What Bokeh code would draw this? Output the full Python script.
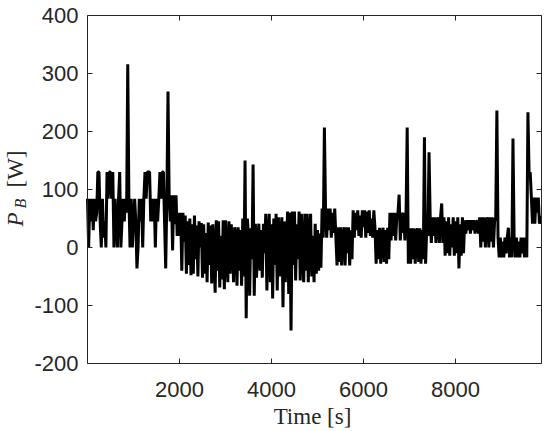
import math
from bokeh.plotting import figure
from bokeh.models import LinearAxis, FixedTicker, Label, Range1d, CustomJSTickFormatter
from bokeh.embed import file_html
from bokeh.resources import INLINE

# ---- data ----
sample_step_s = 25
p_b_w = [
    84, 0, 84, 45, 84, 30, 84, 45, 60, 130,
    130, 45, 0, 84, 17, 45, 0, 130, 84, 130,
    130, 84, 130, 0, 84, 45, 0, 84, 130, 0,
    45, 84, 45, 84, 60, 316, 84, 0, 84, 0,
    45, 84, 45, -36, 0, 84, 45, 84, 0, 84,
    130, 84, 130, 130, 130, 45, 84, 45, 84, 0,
    84, 45, 84, 130, 84, 130, 130, 45, -36, 84,
    269, 90, 45, 90, -5, 90, 40, 90, 20, 60,
    20, 60, -40, 60, 10, 55, -45, 45, -30, 50,
    -48, 40, -45, 55, -20, 38, -50, 45, 0, 42,
    -52, 40, -45, 25, -60, 43, -30, 38, -62, 40,
    -10, -78, 47, -40, 45, -69, 20, -55, 47, -72,
    47, 0, -60, 45, -45, 40, 10, -60, 35, 20,
    -66, 35, -40, 30, -66, 50, -50, 150, -122, 50,
    20, -83, 33, -20, 143, -83, 41, -52, 10, 41,
    -40, 30, -52, 41, -10, 58, -74, 20, 58, -60,
    40, -88, 50, -30, 58, -74, 52, -50, 20, 52,
    -103, 45, -60, 0, 62, -80, 60, -143, 62, -30,
    62, -57, 40, -20, 62, -57, 58, 0, -60, 58,
    -40, 58, -60, 30, 58, -50, 20, -60, 41, -45,
    30, -40, 24, -35, 67, 17, 207, 67, 17, 67,
    30, 67, 17, 60, 25, 67, 17, -31, 35, -25,
    35, -31, 20, 35, -31, 35, -10, 35, -31, 30,
    -20, 64, 17, 60, 30, 64, 20, 55, 17, 64,
    35, 64, 17, 62, 25, 64, 20, 50, 17, 64,
    34, -28, 30, -20, 34, -28, 20, 34, -25, 30,
    -28, 34, -20, 60, 12, 60, 20, 60, 12, 55,
    60, 91, 12, 60, 25, 60, 12, 55, 207, -28,
    33, -28, 33, -20, 33, -28, 25, 33, -25, 33,
    -28, 30, -20, 190, -28, 33, 20, 164, 52, 8,
    52, 20, 52, 8, 45, 52, 8, 52, 76, 8,
    52, -14, 45, -10, 52, -14, 40, 0, 52, -14,
    45, -10, 52, -36, 40, -14, 52, -10, 47, 24,
    47, 30, 47, 24, 47, 30, 47, 24, 40, 47,
    24, 52, 0, 52, 10, 52, 0, 45, 52, 0,
    52, 10, 52, 0, 45, 52, 236, 17, -17, 17,
    -17, 10, -17, 17, -10, 17, 34, -17, 17, -17,
    188, 17, -17, 17, -17, 10, -17, 17, -10, 17,
    -17, 17, -17, 233, 129, 129, 86, 41, 86, 41,
    86, 60, 86, 41, 55,
]
time_s = [i * sample_step_s for i in range(len(p_b_w))]

x_limits = (0, 9870)          # visible axes box
y_limits = (-200, 400)
x_ticks = [2000, 4000, 6000, 8000]
y_ticks = [-200, -100, 0, 100, 200, 300, 400]
y_tick_labels = {t: str(t) for t in y_ticks}
x_label = "Time [s]"
y_label_main = "P"
y_label_sub = "B"
y_label_unit = "[W]"

# ---- layout: the frame fills the canvas; the axes box sits at fixed locations ----
W, H = 550, 431
BOX_L, BOX_R, BOX_T, BOX_B = 87, 541, 15, 363
sx = (BOX_R - BOX_L) / (x_limits[1] - x_limits[0])
sy = (BOX_B - BOX_T) / (y_limits[1] - y_limits[0])
xr = Range1d(x_limits[0] - BOX_L / sx, x_limits[1] + (W - BOX_R) / sx)
yr = Range1d(y_limits[0] - (H - BOX_B) / sy, y_limits[1] + BOX_T / sy)

def px_to_data(px, py):
    return x_limits[0] + (px - BOX_L) / sx, y_limits[1] - (py - BOX_T) / sy

AX = "#262626"
TICK_FONT = "Liberation Sans"
LABEL_FONT = "Liberation Serif"

p = figure(width=W, height=H, x_range=xr, y_range=yr,
           output_backend="svg", toolbar_location=None,
           x_axis_location=None, y_axis_location=None, min_border=0,
           background_fill_color="white", border_fill_color="white")
p.outline_line_color = None
p.xgrid.visible = False
p.ygrid.visible = False

p.line(time_s, p_b_w, line_color="black", line_width=3)

def make_axis(ticks, loc, bounds, labels):
    ax = LinearAxis(ticker=FixedTicker(ticks=ticks), fixed_location=loc, bounds=bounds,
                    axis_line_color=AX, axis_line_width=1,
                    major_tick_line_color=AX, major_tick_in=5, major_tick_out=0,
                    minor_tick_line_color=None,
                    major_label_text_font=TICK_FONT, major_label_text_font_size="22px",
                    major_label_text_color=AX)
    if not labels:
        ax.formatter = CustomJSTickFormatter(code="return ''")
    return ax

bottom = make_axis(x_ticks, y_limits[0], x_limits, True)
bottom.major_label_standoff = 18
left = make_axis(y_ticks, x_limits[0], y_limits, True)
left.major_label_standoff = 9
left.major_label_overrides = y_tick_labels
top = make_axis(x_ticks, y_limits[1], x_limits, False)
right = make_axis(y_ticks, x_limits[1], y_limits, False)
p.add_layout(bottom, "below")
p.add_layout(left, "left")
p.add_layout(top, "above")
p.add_layout(right, "right")

# axis titles
tx, ty = px_to_data(312, 416)
p.add_layout(Label(x=tx, y=ty, text=x_label, text_font=LABEL_FONT,
                   text_font_size="23px", text_color=AX,
                   text_align="center", text_baseline="alphabetic"))
px_, py_ = px_to_data(15, 226)
p.add_layout(Label(x=px_, y=py_, text=y_label_main, text_font=LABEL_FONT,
                   text_font_size="23px", text_font_style="italic", text_color=AX,
                   angle=math.pi / 2, text_align="left", text_baseline="alphabetic"))
bx, by = px_to_data(20, 208)
p.add_layout(Label(x=bx, y=by, text=y_label_sub, text_font=LABEL_FONT,
                   text_font_size="16px", text_font_style="italic", text_color=AX,
                   angle=math.pi / 2, text_align="left", text_baseline="alphabetic"))
wx, wy = px_to_data(15, 187)
p.add_layout(Label(x=wx, y=wy, text=y_label_unit, text_font=LABEL_FONT,
                   text_font_size="23px", text_color=AX,
                   angle=math.pi / 2, text_align="left", text_baseline="alphabetic"))

open("out.html", "w").write(file_html(p, INLINE))
